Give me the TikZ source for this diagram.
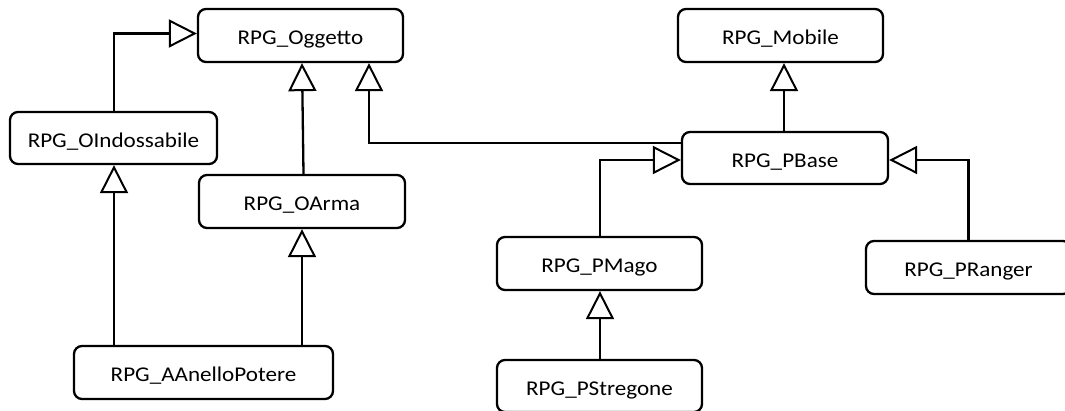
\documentclass[tikz,border=0pt]{standalone}
\usepackage{fontspec}
\newfontfamily\calfont[FakeStretch=1.1]{Carlito}
\usetikzlibrary{arrows.meta}
\begin{document}
\begin{tikzpicture}[x=1pt,y=-1pt,
  cls/.style={draw, line width=2.3pt, rounded corners=8pt, minimum height=53pt, minimum width=205pt, inner sep=0pt, text height=20pt, text depth=1.5pt, font=\calfont\fontsize{21}{25}\selectfont},
  inh/.style={line width=2.3pt, -{Triangle[open, length=28pt, width=28pt, line width=2pt]}}
]
\useasboundingbox (0,0) rectangle (1065,411);
\clip (0,0) rectangle (1065,411);
\node[cls] (ogg) at (300.5,35.5) {RPG\_Oggetto};
\node[cls] (mob) at (780.5,35.5) {RPG\_Mobile};
\node[cls, minimum width=207pt, minimum height=52pt] (oind) at (113.5,138) {RPG\_OIndossabile};
\node[cls, minimum width=206pt] (oarma) at (302,201.5) {RPG\_OArma};
\node[cls, minimum width=206pt, minimum height=52pt] (pbase) at (785,158) {RPG\_PBase};
\node[cls] (pmago) at (599.5,263.5) {RPG\_PMago};
\node[cls, minimum height=52pt] (pstreg) at (599.5,386) {RPG\_PStregone};
\node[cls, minimum width=259pt] (anello) at (203.5,372.5) {RPG\_AAnelloPotere};
\node[cls] (pranger) at (968.5,267.5) {RPG\_PRanger};

\draw[inh] ([xshift=0.5pt]oind.north) |- ([yshift=2pt]ogg.west);
\draw[inh] ([xshift=1.5pt]oarma.north) -- ([xshift=1.5pt]ogg.south);
\draw[inh] ([yshift=15pt]pbase.west) -| ([xshift=68.5pt]ogg.south);
\draw[inh] ([xshift=0.5pt]oind.south |- anello.north) -- ([xshift=0.5pt]oind.south);
\draw[inh] (oarma.south |- anello.north) -- (oarma.south);
\draw[inh] ([xshift=0.5pt]pmago.north) |- ([yshift=-2pt]pbase.west);
\draw[inh] ([xshift=0.5pt]pstreg.north) -- ([xshift=0.5pt]pmago.south);
\draw[inh] ([xshift=-1pt]pbase.north) -- ([xshift=-1pt]pbase.north |- mob.south);
\draw[inh] (pranger.north) |- ([yshift=-2pt]pbase.east);
\end{tikzpicture}
\end{document}
